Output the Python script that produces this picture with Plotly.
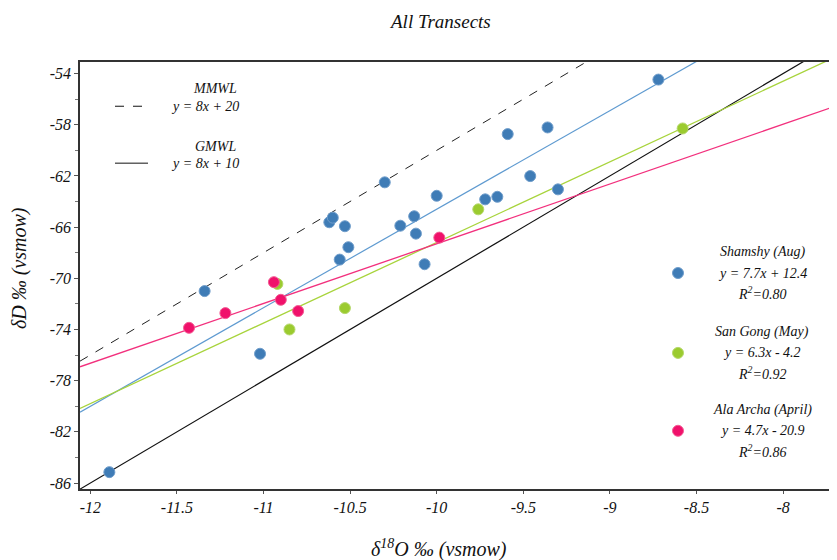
import plotly.graph_objects as go

# ---------------- data ----------------
shamshy_x = [-11.89, -11.34, -11.02, -10.62, -10.60, -10.56, -10.53, -10.51, -10.30, -10.21,
             -10.13, -10.12, -10.07, -10.00, -9.72, -9.65, -9.59, -9.46, -9.36, -9.30, -8.72]
shamshy_y = [-85.15, -71.0, -75.9, -65.62, -65.26, -68.54, -65.93, -67.57, -62.5, -65.89,
             -65.15, -66.51, -68.9, -63.55, -63.83, -63.63, -58.73, -62.01, -58.21, -63.05, -54.47]

sangong_x = [-10.92, -10.85, -10.53, -9.76, -8.58]
sangong_y = [-70.44, -74.0, -72.33, -64.61, -58.29]

alaarcha_x = [-11.43, -11.22, -10.94, -10.90, -10.80, -9.985]
alaarcha_y = [-73.87, -72.72, -70.3, -71.68, -72.56, -66.82]

# regression / reference lines (slope, intercept)
line_names = ["MMWL", "GMWL", "Shamshy", "San Gong", "Ala Archa"]
line_slopes = [8.0, 8.0, 7.7, 6.3, 4.67]
line_intercepts = [20.0, 10.0, 12.4, -4.2, -20.6]

x_ticks = [-12, -11.5, -11, -10.5, -10, -9.5, -9, -8.5, -8]
x_tick_text = ["-12", "-11.5", "-11", "-10.5", "-10", "-9.5", "-9", "-8.5", "-8"]
y_ticks = [-54, -58, -62, -66, -70, -74, -78, -82, -86]
y_tick_text = ["-54", "-58", "-62", "-66", "-70", "-74", "-78", "-82", "-86"]
y_minor = [-56, -60, -64, -68, -72, -76, -80, -84]

series_labels = [
    ["Shamshy (Aug)", "y = 7.7x + 12.4", "R<sup>2</sup>=0.80"],
    ["San Gong (May)", "y = 6.3x - 4.2", "R<sup>2</sup>=0.92"],
    ["Ala Archa (April)", "y = 4.7x - 20.9", "R<sup>2</sup>=0.86"],
]

# ---------------- style ----------------
X_RANGE = [-12.0595, -7.6426]
Y_RANGE = [-86.468, -53.095]
FONT = "Times New Roman, Liberation Serif, DejaVu Serif, serif"
blue, green, pink = "#3F7CB6", "#9BCB2F", "#F0116B"
blue_l, green_l, pink_l = "#5E9AD0", "#A8D43C", "#F2307D"

fig = go.Figure()

line_styles = [
    dict(color="#222222", width=1, dash="dash"),
    dict(color="#111111", width=1.2),
    dict(color=blue_l, width=1.2),
    dict(color=green_l, width=1.3),
    dict(color=pink_l, width=1.3),
]
for name, m, b, st in zip(line_names, line_slopes, line_intercepts, line_styles):
    xs = [X_RANGE[0], X_RANGE[1]]
    fig.add_trace(go.Scatter(x=xs, y=[m * v + b for v in xs], mode="lines",
                             line=st, name=name, showlegend=False, hoverinfo="skip"))

for xs, ys, c, ol, nm in [(shamshy_x, shamshy_y, blue, "#6F9DCB", "Shamshy"),
                          (sangong_x, sangong_y, green, "#B5D86A", "San Gong"),
                          (alaarcha_x, alaarcha_y, pink, "#F35C94", "Ala Archa")]:
    fig.add_trace(go.Scatter(x=xs, y=ys, mode="markers", name=nm, showlegend=False,
                             marker=dict(size=11, color=c, line=dict(width=1, color=ol))))

# ---------------- annotations ----------------
# page pixel -> paper coords (plot area spans page x 80..845, y 61.7..489.3)
def px2paper(px, py):
    return (px - 80) / 765.0, (489.3 - py) / 427.6

ann = []
def add_text(txt, px, py, size=15, **kw):
    x, y = px2paper(px, py)
    ann.append(dict(text="<i>%s</i>" % txt, x=x, y=y, xref="paper", yref="paper", showarrow=False,
                    xanchor="center", yanchor="middle",
                    font=dict(family=FONT, size=size, color="#111111"), **kw))

add_text("All Transects", 440, 21, size=19)
add_text("δ<sup>18</sup>O ‰ (vsmow)", 439, 549, size=20)
add_text("δD ‰ (vsmow)", 19, 268, size=20, textangle=-90)

add_text("MMWL", 215, 88, size=14)
add_text("y = 8x + 20", 205, 106, size=14)
add_text("GMWL", 215, 146, size=14)
add_text("y = 8x + 10", 205, 163, size=14)

shapes = []
for py, dash in [(106, "dash"), (163, "solid")]:
    x0, y0 = px2paper(115, py)
    x1, _ = px2paper(148, py)
    shapes.append(dict(type="line", xref="paper", yref="paper", x0=x0, x1=x1, y0=y0, y1=y0,
                       line=dict(color="#111111", width=1, dash=dash)))

block_y = [273, 353, 431]
for lines, c, ol, py in zip(series_labels, [blue, green, pink],
                            ["#6F9DCB", "#B5D86A", "#F35C94"], block_y):
    for i, t in enumerate(lines):
        add_text(t, 762, py - 20 + 20 * i - (1 if i == 0 else 0), size=14)
    xa, ya = px2paper(678, py)
    shapes.append(dict(type="circle", xref="paper", yref="paper", xsizemode="pixel",
                       ysizemode="pixel", xanchor=xa, yanchor=ya, x0=-5.5, x1=5.5, y0=-5.5, y1=5.5,
                       fillcolor=c, line=dict(color=ol, width=1)))

fig.update_layout(
    width=837, height=560,
    margin=dict(l=72, r=0, t=54, b=79),
    paper_bgcolor="white", plot_bgcolor="white",
    annotations=ann, shapes=shapes,
    font=dict(family=FONT, color="#111111"),
)
fig.update_xaxes(range=X_RANGE, tickvals=x_ticks, ticktext=["<i>%s</i>" % t for t in x_tick_text],
                 showgrid=False, zeroline=False, showline=True, mirror=True,
                 linecolor="#333333", linewidth=1.5, ticks="outside", ticklen=3,
                 tickcolor="#555555",
                 tickfont=dict(family=FONT, size=16, color="#111111"))
fig.update_yaxes(range=Y_RANGE, tickvals=y_ticks, ticktext=["<i>%s</i>" % t for t in y_tick_text],
                 showgrid=False, zeroline=False, showline=True,
                 linecolor="#333333", linewidth=1.5, ticks="outside", ticklen=4,
                 tickcolor="#555555",
                 minor=dict(tickvals=y_minor, ticks="outside", ticklen=3, tickcolor="#777777"),
                 tickfont=dict(family=FONT, size=16, color="#111111"))

fig.write_html("out.html")
